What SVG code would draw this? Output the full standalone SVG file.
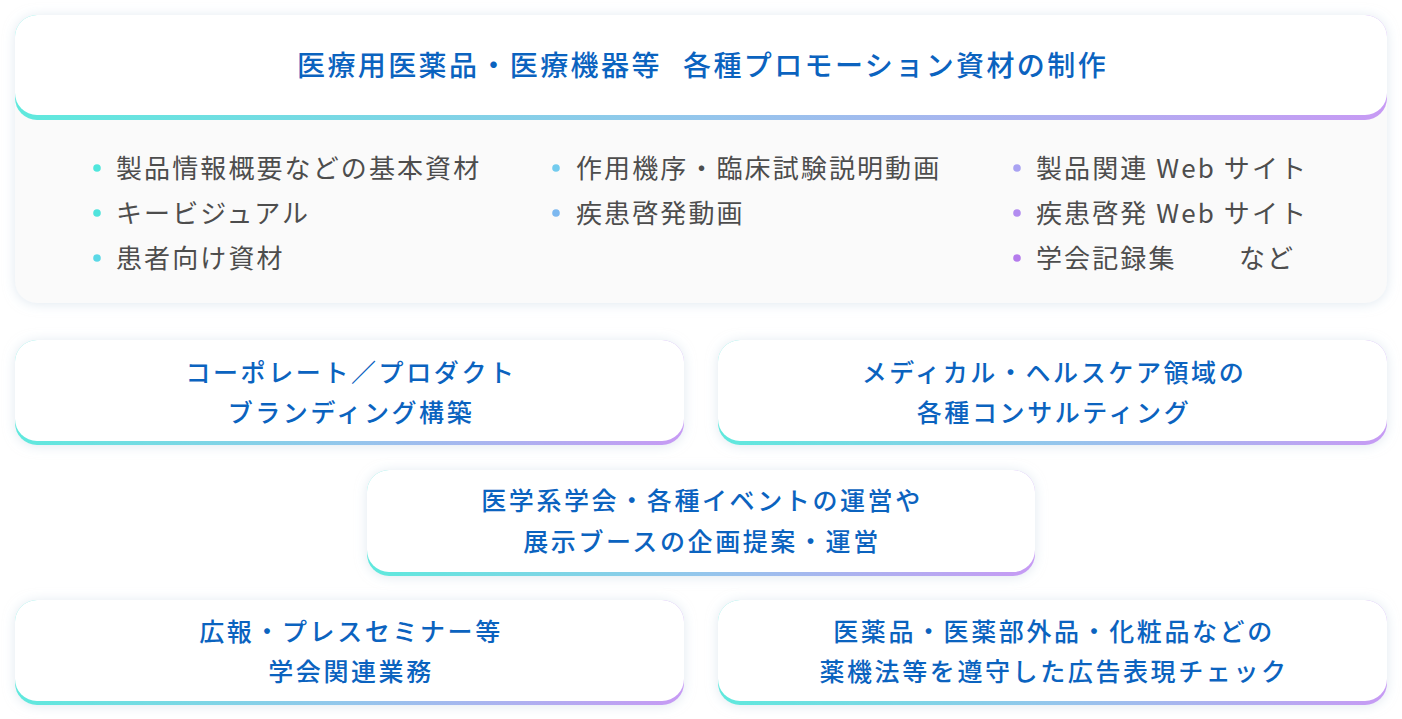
<svg xmlns="http://www.w3.org/2000/svg" width="1402" height="719" viewBox="0 0 1402 719">
  <defs>
    <linearGradient id="edge" x1="0" y1="0" x2="1" y2="0">
      <stop offset="0" stop-color="#5fe9dd"/>
      <stop offset="0.5" stop-color="#94c6ec"/>
      <stop offset="1" stop-color="#c79af4"/>
    </linearGradient>
    <filter id="sh" x="-10%" y="-30%" width="120%" height="160%">
      <feDropShadow dx="0" dy="1" stdDeviation="6" flood-color="#c6d6e4" flood-opacity="0.55"/>
    </filter>
    <style>
      .blue { font-family: "Noto Sans CJK JP", "Noto Sans", sans-serif; fill: #0b63bf; font-weight: 500; }
      .ttl { font-size: 28px; letter-spacing: 2.4px; }
      .card { font-size: 25px; letter-spacing: 2.6px; text-anchor: middle; }
      .item { font-family: "Noto Sans CJK JP", "Noto Sans", sans-serif; fill: #4d4d4d; font-size: 26px; letter-spacing: 2.1px; }
      .white { fill: #ffffff; }
    </style>
  </defs>
  <rect x="0" y="0" width="1402" height="719" fill="#ffffff"/>

  <g id="promo">
    <rect x="15" y="15" width="1372" height="288" rx="22" fill="#fafafa" filter="url(#sh)"/>
    <rect x="15" y="15" width="1372" height="105" rx="22" fill="url(#edge)"/>
    <rect x="15" y="15" width="1372" height="100" rx="22" class="white"/>
    <text class="blue ttl" y="76"><tspan x="297">医療用医薬品・医療機器等</tspan><tspan x="683">各種プロモーション資材の制作</tspan></text>
    <g id="list1">
      <circle cx="97" cy="168" r="3.8" fill="#4fe6dc"/>
      <circle cx="97" cy="213" r="3.8" fill="#4fe3dc"/>
      <circle cx="97" cy="258" r="3.8" fill="#5ad8e6"/>
      <text class="item" x="116" y="178">製品情報概要などの基本資材</text>
      <text class="item" x="116" y="223">キービジュアル</text>
      <text class="item" x="116" y="268">患者向け資材</text>
    </g>
    <g id="list2">
      <circle cx="556" cy="168" r="3.8" fill="#72cbee"/>
      <circle cx="556" cy="213" r="3.8" fill="#7cb8f0"/>
      <text class="item" x="576" y="178">作用機序・臨床試験説明動画</text>
      <text class="item" x="576" y="223">疾患啓発動画</text>
    </g>
    <g id="list3">
      <circle cx="1017" cy="168" r="3.8" fill="#a9a2f2"/>
      <circle cx="1017" cy="213" r="3.8" fill="#b28cf0"/>
      <circle cx="1017" cy="258" r="3.8" fill="#b47bec"/>
      <text class="item" x="1036" y="178">製品関連 Web サイト</text>
      <text class="item" x="1036" y="223">疾患啓発 Web サイト</text>
      <text class="item" y="268"><tspan x="1036">学会記録集</tspan><tspan x="1239">など</tspan></text>
    </g>
  </g>

  <g id="branding">
    <rect x="15" y="340" width="669" height="105" rx="22" fill="url(#edge)" filter="url(#sh)"/>
    <rect x="15" y="340" width="669" height="101" rx="22" class="white"/>
    <text class="blue card" x="351" y="382">コーポレート／プロダクト</text>
    <text class="blue card" x="351" y="422">ブランディング構築</text>
  </g>

  <g id="consulting">
    <rect x="718" y="340" width="669" height="105" rx="22" fill="url(#edge)" filter="url(#sh)"/>
    <rect x="718" y="340" width="669" height="101" rx="22" class="white"/>
    <text class="blue card" x="1054" y="382">メディカル・ヘルスケア領域の</text>
    <text class="blue card" x="1054" y="422">各種コンサルティング</text>
  </g>

  <g id="events">
    <rect x="367" y="470" width="668" height="106" rx="22" fill="url(#edge)" filter="url(#sh)"/>
    <rect x="367" y="470" width="668" height="102" rx="22" class="white"/>
    <text class="blue card" x="702" y="510">医学系学会・各種イベントの運営や</text>
    <text class="blue card" x="702" y="551">展示ブースの企画提案・運営</text>
  </g>

  <g id="pr">
    <rect x="15" y="600" width="669" height="105" rx="22" fill="url(#edge)" filter="url(#sh)"/>
    <rect x="15" y="600" width="669" height="101" rx="22" class="white"/>
    <text class="blue card" x="351" y="641">広報・プレスセミナー等</text>
    <text class="blue card" x="351" y="681">学会関連業務</text>
  </g>

  <g id="check">
    <rect x="718" y="600" width="669" height="105" rx="22" fill="url(#edge)" filter="url(#sh)"/>
    <rect x="718" y="600" width="669" height="101" rx="22" class="white"/>
    <text class="blue card" x="1054" y="641">医薬品・医薬部外品・化粧品などの</text>
    <text class="blue card" x="1054" y="681">薬機法等を遵守した広告表現チェック</text>
  </g>

  <g id="connectors"/>
</svg>
